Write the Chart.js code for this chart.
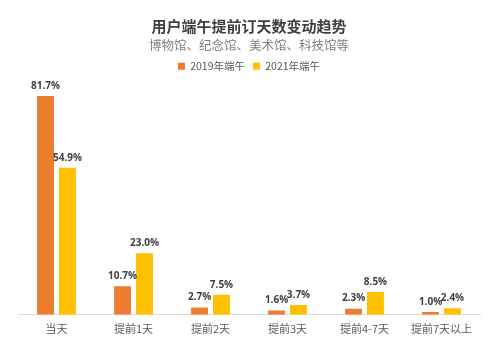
<!DOCTYPE html>
<html>
<head>
<meta charset="utf-8">
<script src="https://cdn.jsdelivr.net/npm/chart.js@4/dist/chart.umd.min.js"></script>
<style>
  html, body { margin: 0; padding: 0; background: #fff; }
  #wrap { width: 499px; height: 341px; }
</style>
</head>
<body>
<div id="wrap"><canvas id="c"></canvas></div>
<script>
const categories = ["当天", "提前1天", "提前2天", "提前3天", "提前4-7天", "提前7天以上"];
const seriesNames = ["2019年端午", "2021年端午"];
const values2019 = [81.7, 10.7, 2.7, 1.6, 2.3, 1.0];
const values2021 = [54.9, 23.0, 7.5, 3.7, 8.5, 2.4];

const FONT = "'Noto Sans CJK SC', 'Noto Sans', sans-serif";

// percentage labels above each bar
const barLabels = {
  id: "barLabels",
  afterDatasetsDraw(chart) {
    const ctx = chart.ctx;
    ctx.save();
    ctx.font = "bold 10px 'Open Sans', 'Noto Sans', sans-serif";
    ctx.fillStyle = "#404040";
    ctx.textAlign = "center";
    ctx.textBaseline = "bottom";
    chart.data.datasets.forEach((ds, i) => {
      chart.getDatasetMeta(i).data.forEach((bar, j) => {
        ctx.fillText(ds.data[j].toFixed(1) + "%", bar.x, bar.y - 5);
      });
    });
    ctx.restore();
  }
};

new Chart(document.getElementById("c"), {
  type: "bar",
  data: {
    labels: categories,
    datasets: [
      { label: seriesNames[0], data: values2019, backgroundColor: "#ED7D31" },
      { label: seriesNames[1], data: values2021, backgroundColor: "#FFC000" }
    ]
  },
  options: {
    responsive: true,
    maintainAspectRatio: false,
    animation: false,
    layout: { padding: { left: 18, right: 19, top: 0, bottom: 7 } },
    datasets: { bar: { barPercentage: 0.77, categoryPercentage: 0.57 } },
    scales: {
      y: { display: false, min: 0, max: 87.1 },
      x: {
        grid: { display: false },
        border: { color: "#d9d9d9", width: 1 },
        ticks: { color: "#595959", font: { family: FONT, size: 11 }, padding: -1 }
      }
    },
    plugins: {
      title: {
        display: true,
        text: "用户端午提前订天数变动趋势",
        color: "#404040",
        font: { family: FONT, size: 15, weight: "bold" },
        padding: { top: 17, bottom: 1 }
      },
      subtitle: {
        display: true,
        text: "博物馆、纪念馆、美术馆、科技馆等",
        color: "#7f7f7f",
        font: { family: FONT, size: 12.5 },
        padding: { top: 2, bottom: 0 }
      },
      legend: {
        labels: {
          boxWidth: 7,
          boxHeight: 7,
          padding: 8,
          color: "#595959",
          font: { family: FONT, size: 10.5 }
        }
      },
      tooltip: { enabled: false }
    }
  },
  plugins: [barLabels]
});
</script>
</body>
</html>
